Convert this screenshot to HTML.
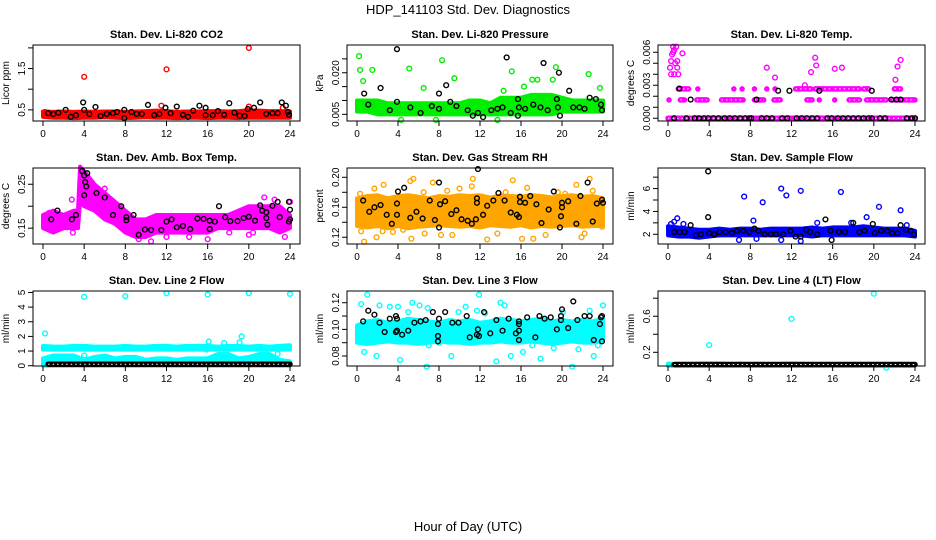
<!DOCTYPE html>
<html><head><meta charset="utf-8"><style>
html,body{margin:0;padding:0;background:#fff}
svg{display:block;font-family:"Liberation Sans",Arial,sans-serif}
</style></head><body>
<svg id="chart" width="936" height="540" viewBox="0 0 936 540" xmlns="http://www.w3.org/2000/svg">
<text x="468" y="14" text-anchor="middle" font-size="13">HDP_141103  Std. Dev. Diagnostics</text>
<text x="468" y="531" text-anchor="middle" font-size="13">Hour of Day (UTC)</text>
</svg>
<script>
const xTicks=[0,4,8,12,16,20,24];
const hours=[0,1,2,3,4,5,6,7,8,9,10,11,12,13,14,15,16,17,18,19,20,21,22,23,24];
// P1 CO2
const co2Lo=[0.33,0.31,0.31,0.30,0.31,0.31,0.32,0.31,0.30,0.31,0.32,0.31,0.31,0.30,0.31,0.31,0.30,0.31,0.31,0.30,0.31,0.31,0.31,0.31,0.31];
const co2Hi=[0.46,0.45,0.46,0.45,0.46,0.45,0.46,0.46,0.45,0.46,0.47,0.48,0.47,0.45,0.46,0.46,0.47,0.47,0.46,0.47,0.49,0.48,0.47,0.47,0.46];
const co2OutX=[4,12,20,11.5,20,0.2,23.3];
const co2OutY=[1.3,1.48,2.0,0.6,0.58,0.45,0.55];
const co2BlkX=[0.5,1,1.5,2.2,2.7,3.2,3.9,4,4.5,5.1,5.6,6.2,6.8,7.2,7.9,7.9,8.6,9.1,9.6,10.2,10.8,11.3,11.9,12.4,13,13.6,14.1,14.6,15.2,15.8,15.8,16.5,17,17.6,18.1,18.6,19.1,19.6,19.9,20.5,21.1,21.7,22.3,22.8,23.2,23.6,23.8,23.9];
const co2BlkY=[0.42,0.4,0.43,0.5,0.33,0.37,0.68,0.5,0.4,0.57,0.35,0.4,0.42,0.45,0.5,0.3,0.45,0.4,0.4,0.62,0.37,0.4,0.55,0.42,0.58,0.38,0.33,0.48,0.6,0.55,0.37,0.37,0.47,0.38,0.66,0.43,0.36,0.35,0.52,0.55,0.68,0.4,0.42,0.42,0.68,0.6,0.45,0.38];
// P2 Pressure
const prLo=[0.006,0.006,0.005,0.005,0.005,0.005,0.005,0.005,0.005,0.005,0.005,0.005,0.005,0.005,0.005,0.005,0.005,0.005,0.005,0.005,0.006,0.006,0.006,0.006,0.006];
const prHi=[0.010,0.010,0.010,0.009,0.009,0.009,0.009,0.009,0.009,0.009,0.009,0.010,0.010,0.009,0.011,0.011,0.011,0.012,0.012,0.012,0.011,0.010,0.010,0.010,0.010];
const prOutX=[0.2,0.3,0.6,1.5,5.1,6.5,8.3,9.5,14.3,15.1,16.3,19.4,22.6,23.7,7.7,13.7,4.3,17.1,17.6,19.1];
const prOutY=[0.026,0.021,0.017,0.021,0.0215,0.0145,0.0245,0.018,0.0135,0.0205,0.015,0.022,0.0195,0.0145,0.003,0.003,0.003,0.0175,0.0175,0.0175];
const prBlkX=[3.9,2.3,0.7,8.7,8,14.6,18.2,19.7,20.7,22.7,23.3,23.8,23.9,1.1,3.2,3.9,5.2,6.2,7.3,8,9.1,9.7,10.8,11.3,11.8,12.3,13.1,13.7,14.2,15,15.7,15.8,16.4,17.2,17.9,18.6,19.6,19.8,21.1,21.7,22.2,15.7,19.5];
const prBlkY=[0.0285,0.0145,0.0125,0.0155,0.0125,0.0255,0.0235,0.020,0.0135,0.011,0.0105,0.0085,0.0065,0.0085,0.0065,0.0095,0.0075,0.0055,0.008,0.007,0.0095,0.008,0.0065,0.0045,0.0055,0.004,0.0065,0.007,0.0075,0.0055,0.0045,0.0075,0.007,0.0085,0.0075,0.0065,0.0075,0.0045,0.0075,0.0075,0.007,0.0105,0.0105];
// P3 Li-820 temp (segments of repeated discrete values)
const tSegStart=[0,0.1,1.2,2.8,5.2,8.4,10.3,13.5,14.7,16.2,17.6,19.3,21.8,1.0,2.9,6.4,7.2,8.4,9.6,10.4,12.4,14.3,16.2,19.0,22.0];
const tSegEnd=[24,0.1,1.6,3.8,7.3,9.3,10.9,14.0,14.7,16.2,18.6,21.2,24.0,2.0,2.9,6.4,7.2,8.4,9.6,10.4,13.9,16.1,18.6,19.5,22.6];
const tSegVal=[0,0.00167,0.00167,0.00167,0.00167,0.00167,0.00167,0.00167,0.00167,0.00167,0.00167,0.00167,0.00167,0.00267,0.00267,0.00267,0.00267,0.00267,0.00267,0.00267,0.00267,0.00267,0.00267,0.00267,0.00267];
const tOutX=[0.5,0.6,0.4,0.3,0.7,1.4,0.9,0.2,0.9,0.6,1.0,9.6,13.9,14.4,14.3,16.2,16.9,22.3,22.6,22.1,13.3,10.4,0.3,0.5,0.8];
const tOutY=[0.006,0.0062,0.0058,0.0052,0.005,0.0059,0.0052,0.0046,0.0046,0.004,0.004,0.0046,0.0042,0.0048,0.0055,0.0045,0.0046,0.0047,0.0053,0.0035,0.0030,0.0037,0.004,0.0065,0.0065];
const tBlkZeroX=[0.6,1.8,2.6,3.0,3.5,3.9,4.4,4.9,5.5,6.0,6.5,7.0,7.5,7.9,8.1,9.1,9.6,10.1,11.1,11.6,12.5,13.0,13.5,14.0,14.5,15.5,15.9,16.5,17.0,17.5,18.0,18.5,19.0,19.5,19.8,20.6,21.1,23.2,23.7,24.0];
const tBlkX=[1.1,2.2,8.6,10.7,11.8,14.7,19.8,21.7,22.2,22.6];
const tBlkY=[0.0027,0.0017,0.0017,0.0025,0.0025,0.0025,0.0025,0.0017,0.0017,0.0017];
// P4 Amb box temp
const boxBandX=[0,1,2,3,3.4,3.6,4,5,6,7,8,9,10,11,12,13,14,15,16,17,18,19,20,21,22,23,24];
const boxLo=[0.15,0.14,0.15,0.15,0.15,0.21,0.20,0.19,0.17,0.16,0.14,0.13,0.13,0.14,0.14,0.14,0.14,0.14,0.14,0.15,0.15,0.15,0.15,0.15,0.15,0.14,0.15];
const boxHi=[0.18,0.19,0.18,0.19,0.19,0.29,0.28,0.25,0.23,0.21,0.19,0.17,0.17,0.18,0.18,0.18,0.18,0.18,0.18,0.18,0.18,0.19,0.20,0.20,0.20,0.20,0.18];
const boxOutX=[0.6,2.8,2.9,3.3,6.0,7.5,9.3,10.5,12.0,14.2,16.0,18.1,20.0,21.5,22.5,23.5,24.0,20.4];
const boxOutY=[0.185,0.215,0.14,0.185,0.24,0.175,0.125,0.12,0.13,0.13,0.125,0.14,0.135,0.22,0.215,0.13,0.21,0.14];
const boxBlkX=[0.8,1.4,2.8,3.2,3.8,4.3,4.0,4.1,4.2,4.0,5.2,6.0,6.8,7.6,8.1,8.1,8.8,9.3,9.9,10.5,11.5,12.5,12.0,13.0,13.6,14.3,15.0,15.6,16.2,16.7,16.2,17.1,17.7,18.2,18.9,19.5,20.0,20.6,21.3,21.7,21.7,21.8,21.1,22.3,22.8,23.0,23.9,24.0,24.0,23.9];
const boxBlkY=[0.17,0.19,0.17,0.18,0.28,0.275,0.27,0.255,0.245,0.225,0.23,0.22,0.18,0.20,0.175,0.168,0.18,0.135,0.147,0.146,0.146,0.17,0.165,0.152,0.155,0.148,0.172,0.171,0.167,0.165,0.148,0.2,0.175,0.166,0.166,0.173,0.176,0.167,0.19,0.186,0.173,0.158,0.202,0.201,0.21,0.175,0.21,0.192,0.17,0.165];
// P5 Gas stream RH
const rhLo=[0.135,0.133,0.135,0.132,0.135,0.132,0.134,0.135,0.136,0.135,0.134,0.135,0.133,0.136,0.135,0.134,0.136,0.133,0.135,0.134,0.135,0.136,0.134,0.135,0.135];
const rhHi=[0.172,0.175,0.176,0.172,0.175,0.176,0.174,0.172,0.175,0.174,0.176,0.175,0.176,0.173,0.176,0.175,0.174,0.176,0.175,0.173,0.175,0.176,0.174,0.175,0.172];
const rhOutX=[0.3,0.4,0.7,1.7,1.9,2.6,2.5,3.5,4.5,5.2,5.5,5.3,6.5,6.6,7.4,8.2,8.8,9.3,10.0,11.3,11.2,12.7,13.7,14.5,15.2,16.1,16.6,17.2,18.4,19.6,20.3,21.4,21.9,22.7,23.0,23.9,22.2];
const rhOutY=[0.178,0.128,0.114,0.185,0.12,0.19,0.128,0.127,0.13,0.195,0.198,0.118,0.18,0.125,0.193,0.123,0.182,0.123,0.185,0.198,0.188,0.117,0.125,0.18,0.196,0.118,0.186,0.118,0.123,0.18,0.178,0.19,0.12,0.198,0.182,0.134,0.125];
const rhBlkX=[0.6,1.2,1.7,2.3,2.9,3.4,3.9,3.9,4.0,4.6,5.2,5.8,6.4,7.1,7.6,8.1,8.0,8.0,8.6,9.2,9.7,10.2,10.8,11.2,11.6,11.7,11.7,11.8,12.3,12.7,13.3,13.8,14.4,15.0,15.6,15.8,15.9,15.9,16.4,16.9,17.5,18.0,18.7,19.2,19.8,19.9,20.0,20.0,20.6,21.4,21.8,22.5,23.0,23.4,23.9,24.0];
const rhBlkY=[0.169,0.154,0.160,0.163,0.150,0.138,0.165,0.150,0.181,0.186,0.146,0.154,0.145,0.169,0.143,0.164,0.133,0.193,0.168,0.151,0.156,0.144,0.142,0.138,0.144,0.166,0.172,0.211,0.150,0.162,0.169,0.179,0.169,0.153,0.150,0.147,0.167,0.174,0.166,0.175,0.164,0.139,0.157,0.181,0.133,0.148,0.166,0.16,0.168,0.138,0.175,0.193,0.141,0.165,0.17,0.166];
// P6 Sample flow
const sfLo=[1.9,1.8,1.8,1.7,1.8,1.9,1.9,1.9,1.9,1.9,1.9,1.9,1.9,1.9,1.8,1.9,1.9,1.9,1.9,1.9,1.9,1.9,1.9,1.9,1.8];
const sfHi=[2.7,2.6,2.5,2.4,2.4,2.5,2.4,2.5,2.5,2.4,2.5,2.5,2.5,2.5,2.6,2.5,2.6,2.6,2.6,2.7,2.6,2.5,2.5,2.5,2.3];
const sfOutX=[0.3,0.6,0.9,1.5,7.4,8.3,9.2,11.0,11.5,12.9,16.8,19.3,20.5,22.6,6.9,8.6,11.0,12.9,14.5,17.8,23.2];
const sfOutY=[2.9,3.1,3.4,2.9,5.3,3.2,4.8,6.0,5.4,5.8,5.7,3.5,4.4,4.1,1.5,1.6,1.5,1.4,3.0,3.0,2.8];
const sfBlkX=[0.6,1.1,1.6,2.2,2.7,3.2,3.9,3.9,4.0,4.5,5.0,5.6,6.2,6.7,7.3,7.9,8.4,8.8,9.4,10.0,10.5,11.2,11.9,12.4,12.9,13.4,13.8,14.5,15.3,15.8,15.9,16.6,17.2,18.0,18.6,19.1,19.9,20.1,20.7,21.3,21.8,22.3,22.6,23.1,23.6,23.9];
const sfBlkY=[2.2,2.2,2.2,2.8,1.9,2.0,7.5,3.5,2.1,2.0,2.2,2.2,2.1,2.3,2.3,2.2,2.5,2.3,2.0,2.0,2.0,2.0,2.3,1.8,1.8,2.4,2.2,2.0,3.3,2.3,1.5,2.2,2.2,3.0,2.2,2.3,2.9,2.1,2.3,2.3,2.1,2.1,2.8,2.4,2.3,2.0];
// P7 Line 2 flow
const l2UpLo=[1.1,1.1,1.1,1.1,1.1,1.1,1.1,1.1,1.1,1.1,1.1,1.1,1.1,1.1,1.1,1.1,1.1,1.1,1.1,1.1,1.1,1.1,1.1,1.1,1.1];
const l2UpHi=[1.35,1.3,1.3,1.35,1.35,1.3,1.3,1.3,1.35,1.3,1.3,1.35,1.35,1.3,1.35,1.35,1.35,1.3,1.35,1.35,1.3,1.35,1.3,1.35,1.4];
const l2LowLo=[0,0,0,0,0,0,0,0,0,0,0,0,0,0,0,0,0,0,0,0,0,0,0,0,0];
const l2LowHi=[0.5,0.7,0.7,0.7,0.4,0.6,0.7,0.5,0.6,0.6,0.4,0.5,0.5,0.4,0.5,0.5,0.5,0.8,0.8,0.5,0.6,0.8,0.8,0.4,0.3];
const l2OutX=[4,8,12,16,20,24,0.2,19.3,19.1,16.1,17.6,17.8,15.9,0.1,4.0,21.5,22.8];
const l2OutY=[4.7,4.75,4.95,4.85,4.95,4.9,2.2,2.0,1.6,1.65,1.55,0.95,1.1,0.3,0.7,0.9,0.8];
const l2BlkStart=[0.5], l2BlkEnd=[24], l2BlkVal=[0.1];
// P8 Line 3 flow
const l3Lo=[0.090,0.089,0.090,0.091,0.090,0.090,0.089,0.090,0.091,0.090,0.090,0.089,0.090,0.090,0.091,0.090,0.090,0.091,0.090,0.089,0.090,0.091,0.090,0.090,0.091];
const l3Hi=[0.103,0.106,0.107,0.105,0.106,0.108,0.107,0.106,0.105,0.107,0.106,0.107,0.105,0.106,0.108,0.107,0.106,0.107,0.108,0.106,0.107,0.106,0.107,0.106,0.108];
const l3OutX=[0.4,1.0,0.7,1.9,2.2,3.2,3.6,4.2,4.0,5.0,5.4,6.1,6.8,6.9,7.0,8.0,9.2,9.9,10.6,11.7,11.9,12.5,13.6,14.0,14.4,15.0,16.2,17.1,17.9,19.2,20.1,21.0,21.6,22.7,23.1,23.5,24.0];
const l3OutY=[0.119,0.126,0.083,0.080,0.118,0.117,0.092,0.077,0.117,0.113,0.120,0.118,0.072,0.116,0.088,0.090,0.080,0.113,0.117,0.114,0.126,0.112,0.076,0.120,0.118,0.080,0.083,0.088,0.078,0.086,0.113,0.072,0.085,0.114,0.080,0.088,0.118];
const l3BlkX=[0.6,1.1,1.7,2.2,2.7,3.2,3.8,3.9,3.8,3.9,4.4,5.0,5.6,6.2,6.7,7.4,8.0,7.9,7.9,7.9,8.6,9.3,9.9,10.7,11.0,11.7,11.8,11.9,12.4,13.0,13.6,14.2,14.8,15.5,15.8,15.8,15.8,15.8,16.6,17.4,17.8,18.3,18.9,19.5,19.9,19.9,20.0,20.6,21.1,21.5,22.2,22.7,23.1,23.7,23.8,23.9,23.9];
const l3BlkY=[0.106,0.114,0.111,0.105,0.098,0.108,0.110,0.108,0.098,0.099,0.096,0.099,0.105,0.106,0.107,0.113,0.108,0.104,0.095,0.091,0.113,0.105,0.105,0.110,0.094,0.096,0.100,0.095,0.113,0.097,0.107,0.099,0.108,0.097,0.099,0.104,0.106,0.092,0.109,0.094,0.110,0.108,0.109,0.100,0.107,0.110,0.115,0.101,0.121,0.107,0.110,0.110,0.092,0.104,0.109,0.110,0.091];
// P9 Line 4 flow
const l4Lo=[0.05,0.05,0.05,0.05,0.05,0.05,0.05,0.05,0.05,0.05,0.05,0.05,0.05,0.05,0.05,0.05,0.05,0.05,0.05,0.05,0.05,0.05,0.05,0.05,0.05];
const l4Hi=[0.075,0.07,0.07,0.075,0.075,0.075,0.07,0.075,0.07,0.07,0.07,0.07,0.075,0.07,0.07,0.07,0.07,0.07,0.07,0.07,0.07,0.07,0.07,0.07,0.07];
const l4OutX=[4,12,20,21.2];
const l4OutY=[0.28,0.57,0.85,0.03];
const l4BlkStart=[0.6], l4BlkEnd=[24], l4BlkVal=[0.065];

const svg=document.getElementById('chart');
const NS='http://www.w3.org/2000/svg';
function mk(tag,attrs,parent){const e=document.createElementNS(NS,tag);for(const k in attrs)e.setAttribute(k,attrs[k]);(parent||svg).appendChild(e);return e;}

const cols=[[33,300],[347,613],[658,925]];
const rows=[[45,121],[168,244],[291,366]];

function makePanel(ci,ri,key,title,ylab,ybot,ytop,ticks,labels){
  const [l,r]=cols[ci],[t,b]=rows[ri];
  const g=mk('g',{});
  
  
  const P={g,l,r,t,b,
    x:h=>l+10+h/24*(r-l-20),
    y:v=>b-(v-ybot)/(ytop-ybot)*(b-t)};
  const tt=mk('text',{x:(l+r)/2,y:t-7,'text-anchor':'middle','font-size':11,'font-weight':'bold'},g);
  tt.textContent=title;
  
  
  const yt=mk('text',{transform:`translate(${l-24},${(t+b)/2}) rotate(-90)`,'text-anchor':'middle','font-size':10},g);
  yt.textContent=ylab;
  
  
  P.marks=mk('g',{},g);
  
  
  P.finish=function(){
    const box=mk('rect',{x:l,y:t,width:r-l,height:b-t,fill:'none',stroke:'#000','stroke-width':1},g);
    
    
    xTicks.forEach(h=>{
      const X=P.x(h);
      const tk=mk('line',{x1:X,x2:X,y1:b,y2:b+5,stroke:'#000'},g);
      
      
      const tl=mk('text',{x:X,y:b+16,'text-anchor':'middle','font-size':10},g);
      tl.textContent=h;
      
      
    });
    ticks.forEach((v,i)=>{
      const Y=P.y(v);
      const tk=mk('line',{x1:l-5,x2:l,y1:Y,y2:Y,stroke:'#000'},g);
      
      
      if(labels[i]){const tl=mk('text',{transform:`translate(${l-8},${Y}) rotate(-90)`,'text-anchor':'middle','font-size':10},g);
      tl.textContent=labels[i];
      
      }
    });
  };
  return P;
}
function band(P,xs,lo,hi,color,name){
  let pts=xs.map((h,i)=>P.x(h)+','+P.y(hi[i]));
  for(let i=xs.length-1;i>=0;i--)pts.push(P.x(xs[i])+','+P.y(lo[i]));
  const p=mk('polygon',{points:pts.join(' '),fill:color,stroke:color,'stroke-width':4,'stroke-linejoin':'round'},P.marks);
  
  
}
function points(P,xs,ys,color,name){
  xs.forEach((h,i)=>{
    const c=mk('circle',{cx:P.x(h),cy:P.y(ys[i]),r:2.4,fill:'none',stroke:color,'stroke-width':1.4},P.marks);
    
    
  });
}
function segs(P,st,en,val,color,name){
  st.forEach((s,i)=>{
    const x1=P.x(s),x2=P.x(en[i]),Y=P.y(val[i]);
    const ln=mk('line',{x1:x1,x2:x2,y1:Y,y2:Y,stroke:color,'stroke-width':5.5,'stroke-linecap':'round'},P.marks);
    
    
    const ln2=mk('line',{x1:x1,x2:x2,y1:Y,y2:Y,stroke:'#fff','stroke-width':1,'stroke-dasharray':'1.5 3'},P.marks);
    
    
  });
}
const RED='#ff0000',GREEN='#00ee00',MAG='#ff00ff',ORANGE='#ffa500',BLUE='#0000ff',CYAN='#00ffff',BLK='#000';

let P=makePanel(0,0,'co2','Stan. Dev. Li-820 CO2','Licor ppm',0.23,2.07,[0.5,1,1.5,2],['0.5','','1.5','']);
band(P,hours,co2Lo,co2Hi,RED,'co2-red-cloud');points(P,co2OutX,co2OutY,RED,'co2-red-point');points(P,co2BlkX,co2BlkY,BLK,'co2-black-point');P.finish();

P=makePanel(1,0,'pressure','Stan. Dev. Li-820 Pressure','kPa',0.0026,0.030,[0.005,0.010,0.015,0.020,0.025],['0.005','','','0.020','']);
band(P,hours,prLo,prHi,GREEN,'pressure-green-cloud');points(P,prOutX,prOutY,GREEN,'pressure-green-point');points(P,prBlkX,prBlkY,BLK,'pressure-black-point');P.finish();

P=makePanel(2,0,'licor-temp','Stan. Dev. Li-820 Temp.','degrees C',-0.00025,0.00666,[0,0.001,0.002,0.003,0.004,0.005,0.006],['0.000','','','0.003','','','0.006']);
segs(P,tSegStart,tSegEnd,tSegVal,MAG,'licor-temp-magenta-run');points(P,tOutX,tOutY,MAG,'licor-temp-magenta-point');
points(P,tBlkZeroX,tBlkZeroX.map(()=>0),BLK,'licor-temp-black-zero-point');points(P,tBlkX,tBlkY,BLK,'licor-temp-black-point');P.finish();

P=makePanel(0,1,'box-temp','Stan. Dev. Amb. Box Temp.','degrees C',0.114,0.287,[0.15,0.2,0.25],['0.15','','0.25']);
band(P,boxBandX,boxLo,boxHi,MAG,'box-temp-magenta-cloud');points(P,boxOutX,boxOutY,MAG,'box-temp-magenta-point');points(P,boxBlkX,boxBlkY,BLK,'box-temp-black-point');P.finish();

P=makePanel(1,1,'rh','Stan. Dev. Gas Stream RH','percent',0.111,0.2124,[0.12,0.14,0.16,0.18,0.20],['0.12','','0.16','','0.20']);
band(P,hours,rhLo,rhHi,ORANGE,'rh-orange-cloud');points(P,rhOutX,rhOutY,ORANGE,'rh-orange-point');points(P,rhBlkX,rhBlkY,BLK,'rh-black-point');P.finish();

P=makePanel(2,1,'sample-flow','Stan. Dev. Sample Flow','ml/min',1.15,7.8,[2,3,4,5,6,7],['2','','4','','6','']);
band(P,hours,sfLo,sfHi,BLUE,'sample-flow-blue-cloud');points(P,sfOutX,sfOutY,BLUE,'sample-flow-blue-point');points(P,sfBlkX,sfBlkY,BLK,'sample-flow-black-point');P.finish();

P=makePanel(0,2,'line2','Stan. Dev. Line 2 Flow','ml/min',-0.02,5.1,[0,1,2,3,4,5],['0','1','2','3','4','5']);
band(P,hours,l2UpLo,l2UpHi,CYAN,'line2-upper-cloud');band(P,hours,l2LowLo,l2LowHi,CYAN,'line2-lower-cloud');points(P,l2OutX,l2OutY,CYAN,'line2-cyan-point');segs(P,l2BlkStart,l2BlkEnd,l2BlkVal,BLK,'line2-black-run');P.finish();

P=makePanel(1,2,'line3','Stan. Dev. Line 3 Flow','ml/min',0.0725,0.1288,[0.08,0.09,0.10,0.11,0.12],['0.08','','0.10','','0.12']);
band(P,hours,l3Lo,l3Hi,CYAN,'line3-cyan-cloud');points(P,l3OutX,l3OutY,CYAN,'line3-cyan-point');points(P,l3BlkX,l3BlkY,BLK,'line3-black-point');P.finish();

P=makePanel(2,2,'line4','Stan. Dev. Line 4 (LT) Flow','ml/min',0.048,0.88,[0.2,0.4,0.6,0.8],['0.2','','0.6','']);
band(P,hours,l4Lo,l4Hi,CYAN,'line4-cyan-cloud');points(P,l4OutX,l4OutY,CYAN,'line4-cyan-point');segs(P,l4BlkStart,l4BlkEnd,l4BlkVal,BLK,'line4-black-run');P.finish();
</script>
</body></html>
